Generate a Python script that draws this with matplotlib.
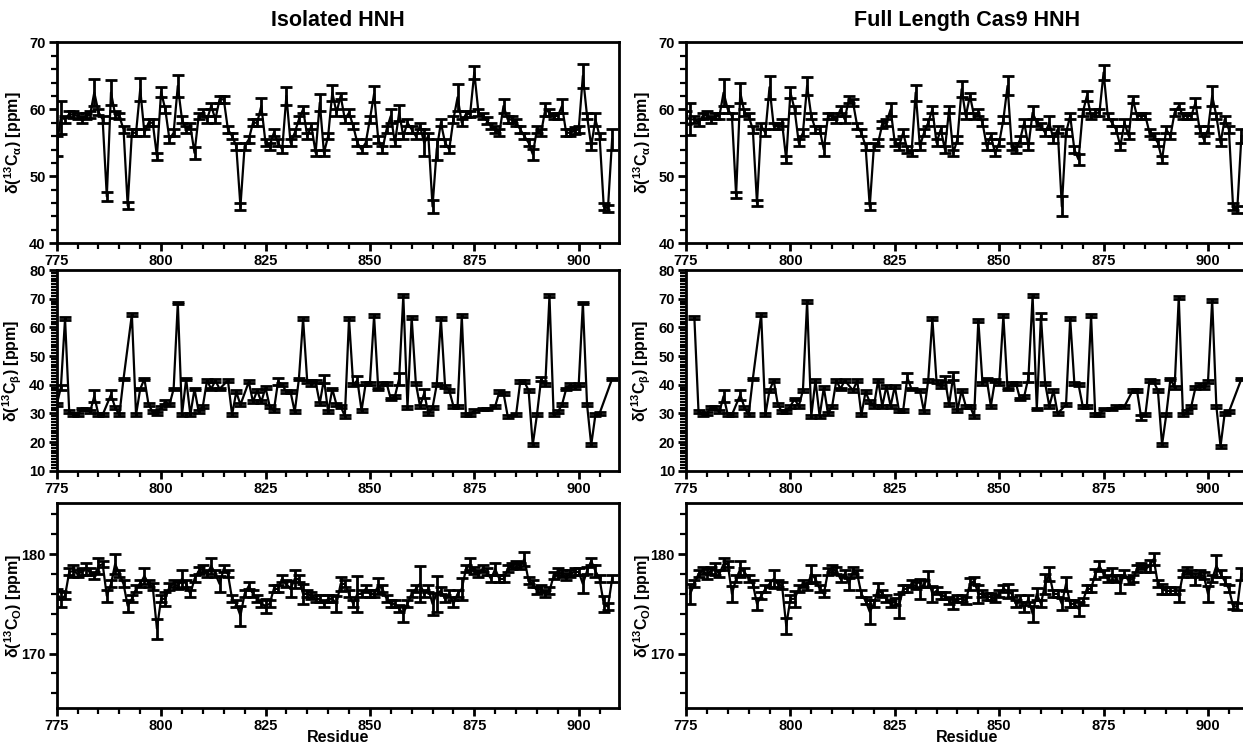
import numpy as np
import matplotlib
matplotlib.use("Agg")
import matplotlib.pyplot as plt
from matplotlib.ticker import MultipleLocator

nan = np.nan
residues = list(range(775, 909))

ca_iso = [54.5, 58.8, 58.5, 59.3, 59.2, 59.0, 58.5, 59.0, 59.2, 62.5,
          59.6, 58.5, 47.0, 62.5, 59.2, 59.0, 57.0, 45.6, 56.5, 56.5,
          63.0, 56.5, 58.0, 58.0, 53.0, 62.6, 60.0, 55.5, 56.5, 63.5,
          58.5, 57.0, 57.5, 53.5, 59.0, 59.5, 58.5, 60.5, 58.5, 61.5,
          61.5, 57.0, 56.0, 54.5, 45.5, 54.5, 55.5, 58.0, 58.0, 60.5,
          55.0, 54.5, 56.5, 55.0, 54.0, 62.0, 55.0, 56.5, 58.5, 60.0,
          56.0, 57.5, 53.5, 61.0, 53.5, 56.0, 62.5, 59.5, 62.0, 58.5,
          59.5, 57.5, 55.0, 54.0, 55.0, 58.5, 62.3, 55.5, 54.0, 57.0,
          59.0, 55.0, 59.5, 56.0, 58.0, 57.0, 56.0, 57.5, 55.0, 56.0,
          45.5, 54.0, 58.0, 55.0, 54.0, 58.5, 61.8, 58.0, 59.3, 59.3,
          65.5, 59.5, 59.0, 58.3, 57.5, 57.0, 56.5, 60.5, 58.5, 58.5,
          58.0, 57.0, 56.0, 55.0, 53.3, 57.0, 56.5, 60.0, 59.5, 59.0,
          59.0, 60.5, 56.5, 56.5, 56.8, 57.0, 65.0, 59.0, 54.5, 58.5,
          56.0, 45.5, 45.2, 55.5]

ca_fl = [58.8, 58.5, 58.5, 58.0, 59.0, 59.2, 58.5, 59.0, 59.0, 62.5,
         60.0, 59.0, 47.2, 62.5, 59.5, 59.0, 57.0, 46.0, 57.5, 56.5,
         63.3, 57.5, 57.5, 58.0, 52.5, 62.5, 60.0, 55.0, 56.5, 63.5,
         59.0, 57.0, 57.0, 54.0, 59.0, 59.0, 58.5, 60.0, 58.5, 61.5,
         61.0, 57.5, 56.5, 54.5, 45.5, 54.5, 55.0, 57.7, 58.0, 60.0,
         55.0, 54.5, 56.5, 54.0, 53.5, 62.5, 54.5, 56.5, 58.0, 60.0,
         55.0, 57.0, 54.0, 60.0, 53.5, 55.5, 63.0, 59.0, 62.0, 59.0,
         59.5, 58.0, 54.5, 56.0, 53.5, 55.0, 58.5, 63.5, 54.5, 54.0,
         55.5, 58.0, 54.5, 59.5, 58.0, 57.5, 56.5, 58.0, 55.5, 57.0,
         45.5, 56.5, 59.0, 54.0, 52.5, 59.5, 62.0, 59.0, 59.5, 59.5,
         65.5, 59.0, 58.0, 57.0, 54.5, 58.0, 56.0, 61.5, 59.0, 59.0,
         59.0, 56.5, 56.0, 55.0, 52.5, 57.0, 56.0, 59.5, 60.5, 59.0,
         59.0, 59.0, 61.0, 57.0, 55.5, 57.0, 62.0, 59.0, 55.0, 58.5,
         57.0, 45.5, 45.0, 56.0]

cb_iso = [33.0, 39.0, 63.0, 30.5, 29.5, 29.5, 31.5, 31.5, 30.5, 36.0,
          29.5, 29.5, nan, 36.5, 32.0, 29.5, 42.0, nan, 64.5, 29.5,
          38.5, 42.0, 33.0, 30.5, 30.0, 32.0, 34.0, 33.0, 38.5, 68.5,
          29.5, 42.0, 29.5, 38.5, 30.5, 32.5, 41.5, 38.5, 41.5, 38.5,
          nan, 41.5, 29.5, 37.5, 33.0, nan, 41.0, 34.0, 38.0, 34.0,
          39.0, 32.5, 31.0, 41.0, 40.0, 37.5, 37.5, 30.5, 42.0, 63.0,
          41.0, 40.5, 41.0, 33.5, 42.0, 30.5, 38.5, 33.0, 32.5, 29.0,
          63.0, 40.0, 41.5, 31.0, 40.5, 40.5, 64.0, 38.5, 40.5, 40.5,
          35.0, 36.0, 42.0, 71.0, 32.0, 63.5, 40.5, 32.5, 37.0, 30.0,
          32.0, 40.0, 63.0, 39.5, 38.0, 32.5, 32.5, 64.0, 29.5, 29.5,
          31.0, nan, 31.5, 31.5, nan, 32.5, 37.5, 37.0, 29.0, nan,
          29.5, 41.0, 41.0, 38.0, 19.0, 29.5, 42.0, 40.0, 71.0, 29.5,
          30.5, 33.0, 38.5, 40.0, 39.0, 40.0, 68.5, 33.0, 19.0, 29.5,
          30.0, nan, nan, 42.0]

cb_fl = [nan, nan, 63.5, 30.5, 29.5, 30.0, 32.0, 32.0, 30.5, 36.0,
         29.5, 29.5, nan, 36.5, 32.0, 29.5, 42.0, nan, 64.5, 29.5,
         38.0, 41.5, 33.0, 30.5, 30.5, 32.5, 35.0, 32.5, 38.0, 69.0,
         29.0, 41.5, 29.0, 39.0, 30.0, 32.5, 41.5, 38.5, 41.5, nan,
         38.0, 41.5, 29.5, 37.5, 34.0, 32.5, 41.5, 32.5, 39.5, 32.5,
         39.5, 31.0, 31.0, 42.5, 38.5, nan, 38.0, 30.5, 41.5, 63.0,
         41.0, 39.5, 42.0, 33.0, 43.0, 31.0, 38.0, 32.5, 32.5, 29.0,
         62.5, 40.5, 42.0, 32.5, 41.5, 40.5, 64.0, 38.5, 40.5, 40.5,
         35.0, 36.0, 42.5, 71.0, 31.5, 64.0, 40.5, 32.5, 38.0, 30.0,
         nan, 33.0, 63.0, 40.5, 40.0, 32.5, 32.5, 64.0, 29.5, 29.5,
         31.5, nan, 31.5, 32.5, nan, 32.5, nan, 38.0, 38.0, 28.5,
         29.5, 41.5, 41.0, 38.0, 19.0, 29.5, 42.0, 39.0, 70.5, 29.5,
         30.5, 32.5, 39.0, 40.0, 39.0, 41.0, 69.5, 32.5, 18.5, 30.0,
         30.5, nan, nan, 42.0]

co_iso = [176.0, 175.5, 175.8, 178.2, 178.3, 178.0, 178.2, 178.5, 178.2, 177.8,
          178.8, 179.0, 175.8, 177.0, 179.0, 178.0, 177.0, 174.8, 175.5, 176.5,
          177.0, 177.8, 177.0, 176.7, 172.5, 175.5, 175.5, 176.7, 177.0, 176.8,
          177.5, 177.0, 176.0, 177.5, 178.3, 178.5, 178.0, 178.8, 178.0, 177.0,
          178.5, 178.0, 175.5, 175.0, 173.8, 176.0, 176.8, 176.0, 175.5, 175.0,
          174.8, 175.0, 176.5, 176.5, 177.5, 177.0, 176.5, 177.5, 177.5, 176.0,
          176.0, 175.8, 175.5, 175.5, 175.0, 175.5, 175.5, 175.0, 177.0, 177.0,
          176.0, 175.0, 176.0, 176.0, 176.5, 176.0, 176.0, 176.8, 176.5, 175.5,
          175.0, 175.0, 174.5, 174.0, 175.0, 176.0, 176.5, 177.0, 176.0, 176.5,
          175.0, 176.0, 176.3, 175.5, 176.0, 175.0, 176.0, 176.5, 178.5, 179.0,
          178.3, 178.0, 178.5, 178.2, 177.5, 178.5, 177.5, 177.5, 178.5, 178.8,
          179.0, 178.8, 179.5, 177.3, 177.0, 176.3, 176.5, 176.0, 176.3, 177.8,
          178.2, 178.0, 177.7, 178.0, 178.2, 178.2, 177.0, 178.3, 179.3, 178.3,
          177.5, 175.0, 174.7, 177.5]

co_fl = [nan, 176.0, 177.0, 178.0, 178.3, 178.0, 178.3, 178.5, 178.0, 179.0,
         179.0, 176.0, 177.5, 178.5, 178.2, 177.5, 177.0, 175.0, 175.8, 176.5,
         177.0, 177.5, 177.0, 176.8, 172.8, 175.5, 175.5, 176.5, 177.0, 176.7,
         178.0, 177.5, 176.5, 176.0, 178.2, 178.5, 178.3, 177.5, 178.0, 177.0,
         178.3, 178.0, 176.0, 175.3, 174.2, 175.0, 176.5, 176.0, 175.5, 175.0,
         175.2, 174.8, 176.5, 176.5, 177.0, 176.8, 176.5, 177.0, 177.5, 176.0,
         176.3, 175.8, 175.8, 175.3, 175.0, 175.5, 175.5, 175.3, 177.0, 177.3,
         176.0, 176.0, 175.7, 175.7, 175.5, 176.0, 176.5, 176.3, 176.0, 175.0,
         175.5, 174.5, 175.5, 174.0, 176.0, 175.0, 177.0, 178.0, 176.0, 176.0,
         175.0, 177.0, 175.0, 175.0, 174.5, 175.2, 176.5, 176.5, 178.0, 178.8,
         178.0, 177.5, 178.0, 177.5, 177.0, 178.0, 177.3, 177.5, 178.5, 178.8,
         178.5, 178.8, 179.5, 177.0, 176.5, 176.3, 176.3, 176.3, 175.8, 178.0,
         178.3, 178.0, 177.5, 178.0, 177.8, 176.0, 177.5, 178.8, 178.0, 177.3,
         176.5, 174.8, 174.7, 178.0]

# error bars (ppm): default size per panel plus the larger ones
err_default = {"ca": 0.5, "cb": 0.5, "co": 0.35}
err_ca_iso = {775: 1.5, 776: 2.5, 784: 2.0, 787: 0.7, 788: 1.8, 795: 1.7, 800: 0.8,
              804: 1.6, 808: 0.9, 824: 1.2, 830: 1.3, 838: 1.3, 841: 1.2, 851: 1.2,
              855: 1.0, 857: 1.2, 863: 2.0, 865: 1.0, 866: 1.5, 871: 2.0, 875: 1.0,
              882: 1.0, 889: 0.8, 892: 1.0, 896: 1.0, 901: 1.8, 904: 1.0, 908: 1.5}
err_ca_fl = {775: 1.0, 776: 2.4, 784: 2.0, 788: 1.5, 795: 1.7, 800: 0.8, 804: 1.3,
             808: 1.0, 824: 1.0, 830: 1.2, 841: 1.2, 852: 1.4, 858: 1.0, 862: 1.0,
             865: 1.5, 869: 0.8, 871: 0.8, 875: 1.1, 897: 0.7, 901: 1.5, 908: 1.0}
err_cb_iso = {776: 0.8, 784: 2.2, 788: 1.5, 801: 0.7, 828: 1.2, 836: 1.0, 839: 1.5,
              847: 1.5, 857: 2.0, 863: 1.5, 891: 0.8}
err_cb_fl = {784: 2.2, 788: 1.8, 828: 1.5, 837: 1.0, 839: 1.5, 857: 1.5, 860: 1.0,
             884: 0.8}
err_co_iso = {775: 0.5, 776: 0.8, 779: 0.6, 782: 0.6, 785: 0.8, 787: 0.6, 789: 1.0,
              792: 0.6, 796: 0.8, 799: 1.0, 801: 0.7, 805: 0.9, 812: 0.8, 814: 0.8,
              819: 1.0, 825: 0.7, 831: 0.8, 832: 0.9, 834: 1.0, 842: 0.8, 843: 0.7,
              847: 1.8, 852: 0.8, 858: 0.8, 862: 1.8, 865: 1.1, 866: 1.8, 872: 1.1,
              874: 0.6, 880: 0.6, 887: 0.7, 901: 0.9, 904: 0.6, 906: 0.8}
err_co_fl = {776: 1.0, 780: 0.5, 782: 0.6, 784: 0.6, 786: 0.8, 788: 0.8, 792: 0.6,
             796: 0.9, 799: 0.8, 801: 0.8, 805: 0.9, 814: 0.6, 819: 1.2, 821: 0.6,
             826: 1.2, 831: 1.0, 833: 0.8, 834: 0.8, 839: 0.5, 843: 0.6, 845: 0.9,
             852: 0.7, 858: 0.8, 859: 0.6, 861: 1.0, 862: 0.7, 865: 0.6, 866: 0.7,
             869: 0.7, 873: 0.5, 874: 0.5, 877: 0.6, 879: 0.9, 886: 0.6, 887: 0.6,
             889: 0.5, 893: 0.6, 897: 0.6, 900: 0.8, 902: 1.1, 908: 0.6}

titles = ["Isolated HNH", "Full Length Cas9 HNH"]
ylabels = ["δ($^{\\mathregular{13}}$C$_{\\mathregular{α}}$) [ppm]",
           "δ($^{\\mathregular{13}}$C$_{\\mathregular{β}}$) [ppm]",
           "δ($^{\\mathregular{13}}$C$_{\\mathregular{O}}$) [ppm]"]
xlabel = "Residue"

plt.rcParams["font.family"] = ["Liberation Sans", "DejaVu Sans"]
plt.rcParams["mathtext.fontset"] = "custom"
plt.rcParams["mathtext.rm"] = "Liberation Sans:bold"
plt.rcParams["mathtext.it"] = "Liberation Sans:italic:bold"
plt.rcParams["mathtext.bf"] = "Liberation Sans:bold"

fig = plt.figure(figsize=(12.43, 7.44), dpi=100)

col_x = [56.7 / 1243, 686 / 1243]
col_w = 562.3 / 1243
rows = [(42.3, 243.3), (270.0, 470.7), (503.3, 708.3)]
ylims = [(40, 70), (10, 80), (164.5, 185.1)]
ymajor = [10, 10, 10]
yminor = [2, 1, 2]

panels = [
    [(ca_iso, err_ca_iso, "ca"), (ca_fl, err_ca_fl, "ca")],
    [(cb_iso, err_cb_iso, "cb"), (cb_fl, err_cb_fl, "cb")],
    [(co_iso, err_co_iso, "co"), (co_fl, err_co_fl, "co")],
]

x_all = np.array(residues, dtype=float)
for r, (ytop, ybot) in enumerate(rows):
    for c in range(2):
        ax = fig.add_axes([col_x[c], 1 - ybot / 744, col_w, (ybot - ytop) / 744])
        vals, errd, kind = panels[r][c]
        y = np.array(vals, dtype=float)
        e = np.array([errd.get(res, err_default[kind]) for res in residues])
        m = ~np.isnan(y)
        ax.errorbar(x_all[m], y[m], yerr=e[m], fmt="-", color="black", lw=1.6,
                    elinewidth=2.0, capsize=4, capthick=2.0)
        ax.set_xlim(775, 909.65)
        ax.set_ylim(*ylims[r])
        ax.xaxis.set_major_locator(MultipleLocator(25))
        ax.xaxis.set_minor_locator(MultipleLocator(5))
        ax.yaxis.set_major_locator(MultipleLocator(ymajor[r]))
        ax.yaxis.set_minor_locator(MultipleLocator(yminor[r]))
        if r == 2:
            ax.set_yticks([170, 180])
            ax.yaxis.set_minor_locator(MultipleLocator(2))
        for s in ax.spines.values():
            s.set_linewidth(2.0)
        ax.tick_params(which="major", length=6, width=2.0, direction="out", pad=2)
        ax.tick_params(which="minor", length=4, width=1.6, direction="out")
        for lab in ax.get_xticklabels() + ax.get_yticklabels():
            lab.set_fontweight("bold")
            lab.set_fontsize(10.5)
        ax.set_ylabel(ylabels[r], fontsize=11.5, fontweight="bold")
        ax.yaxis.set_label_coords(-0.058, 0.5)
        if r == 2:
            ax.set_xlabel(xlabel, fontsize=11.5, fontweight="bold")
            ax.xaxis.set_label_coords(0.5, -0.108)
        if r == 0:
            ax.set_title(titles[c], fontsize=15.5, fontweight="bold", pad=12)

fig.savefig("out.png", dpi=100)
